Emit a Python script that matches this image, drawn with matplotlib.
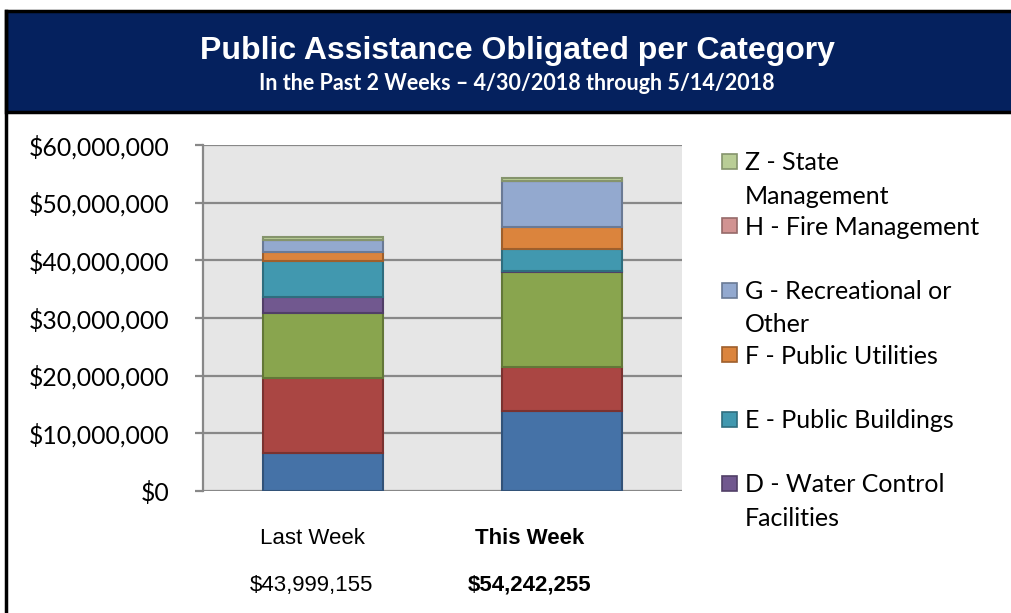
import numpy as np
import matplotlib
matplotlib.use('Agg')
from matplotlib import pyplot as plt
from matplotlib.patches import Rectangle
from matplotlib.lines import Line2D
from matplotlib.colors import to_rgb

# data (values in dollars)
weeks = ['Last Week', 'This Week']
totals = [43999155, 54242255]
categories = ['A - Debris Removal', 'B - Protective Measures', 'C - Roads and Bridges',
              'D - Water Control\nFacilities', 'E - Public Buildings', 'F - Public Utilities',
              'G - Recreational or\nOther', 'H - Fire Management', 'Z - State\nManagement']
last_week = [6.6e6, 13.0e6, 11.2e6, 2.8e6, 6.3e6, 1.6e6, 2.0e6, 0.0, 0.5e6]
this_week = [13.9e6, 7.65e6, 16.35e6, 0.3e6, 3.7e6, 3.8e6, 8.0e6, 0.0, 0.54e6]
colors = ['#4572A7', '#AA4643', '#89A54E', '#71588F', '#4198AF',
          '#DB843D', '#93A9CF', '#D19392', '#B9CD96']
legend_shown = 6  # legend box only shows the top six categories

W, H = 1011, 613
def fx(px): return px / W
def fy(py): return 1 - py / H

def darker(c, f=0.72):
    r, g, b = to_rgb(c)
    return (r * f, g * f, b * f)

fig = plt.figure(figsize=(W / 100, H / 100), dpi=100)

# header band and frame
fig.patches.append(Rectangle((fx(6), fy(112)), 1 - fx(6) + 0.01, fy(11) - fy(112),
                             transform=fig.transFigure, facecolor='#05215E',
                             edgecolor='black', lw=2.5))
fig.lines.append(Line2D([fx(6), fx(6)], [fy(11), 0], transform=fig.transFigure,
                        color='black', lw=2.5))
fig.text(fx(517), fy(51), 'Public Assistance Obligated per Category', color='white',
         fontsize=23, fontweight='bold', family='Liberation Sans', ha='center', va='center')
fig.text(fx(517), fy(83), 'In the Past 2 Weeks \u2013 4/30/2018 through 5/14/2018', color='white',
         fontsize=15.5, fontweight='bold', family='Lato', ha='center', va='center')

ax = fig.add_axes([fx(203), fy(491), fx(682) - fx(203), fy(145) - fy(491)])
ax.set_facecolor('#E6E6E6')

x = np.arange(len(weeks))
bottom = np.zeros(len(weeks))
for i, cat in enumerate(categories):
    vals = np.array([last_week[i], this_week[i]])
    ax.bar(x, vals, 0.5, bottom=bottom, color=colors[i], edgecolor=darker(colors[i]),
           linewidth=1.5, label=cat, zorder=3)
    bottom += vals

ax.set_xlim(-0.5, 1.5)
ax.set_ylim(0, 60e6)
ax.set_yticks(np.arange(0, 60e6 + 1, 10e6))
ax.set_yticklabels(['${:,.0f}'.format(v) for v in np.arange(0, 60e6 + 1, 10e6)],
                   family='Lato', fontsize=17.8)
ax.set_xticks([])
ax.grid(axis='y', color='#888888', lw=1.6, zorder=1)
for s in ['top', 'right', 'bottom']:
    ax.spines[s].set_visible(False)
ax.spines['left'].set_color('#888888')
ax.spines['left'].set_linewidth(1.6)
ax.tick_params(axis='y', length=6, width=1.6, color='#888888', pad=18)

# category labels and totals under the bars
label_x = [312, 530]
for i, w in enumerate(weeks):
    wt = 'bold' if i == 1 else 'normal'
    fig.text(fx(label_x[i]), fy(538), w, fontsize=16, fontweight=wt,
             family='Liberation Sans', ha='center', va='center')
    fig.text(fx(label_x[i]), fy(585), '${:,}'.format(totals[i]), fontsize=16, fontweight=wt,
             family='Liberation Sans', ha='center', va='center')

# legend drawn by hand (Excel wraps the labels)
order = list(range(len(categories)))[::-1][:legend_shown]
for k, i in enumerate(order):
    y0 = 162 + k * 64.4
    fig.patches.append(Rectangle((fx(722), fy(y0 + 7)), fx(737) - fx(722), fy(y0 - 8) - fy(y0 + 7),
                                 transform=fig.transFigure, facecolor=colors[i],
                                 edgecolor=darker(colors[i]), lw=1.2))
    for j, line in enumerate(categories[i].split('\n')):
        fig.text(fx(745), fy(y0 + 1 + j * 33), line, fontsize=18, family='Lato',
                 ha='left', va='center')

fig.savefig('out.png', dpi=100)
